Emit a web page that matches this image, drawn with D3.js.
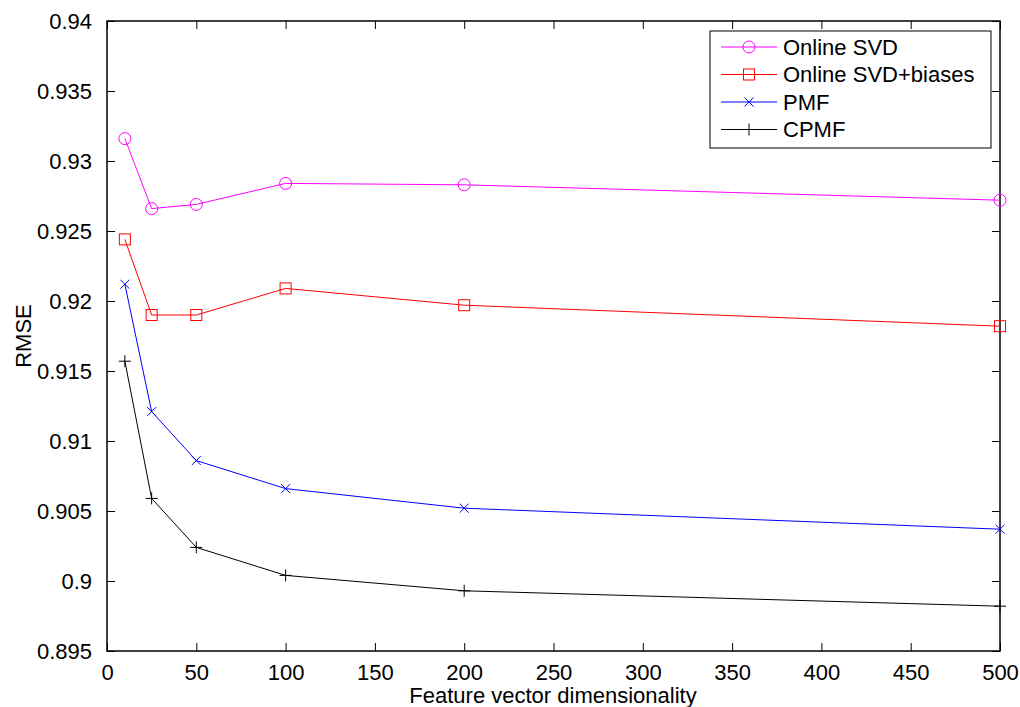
<!DOCTYPE html>
<html>
<head>
<meta charset="utf-8">
<script src="https://cdn.jsdelivr.net/npm/d3@7"></script>
<style>
  html, body { margin: 0; padding: 0; background: #fff; }
  svg { display: block; font-family: "Liberation Sans", Arial, Helvetica, sans-serif; }
</style>
</head>
<body>
<svg id="chart" width="1020" height="707"></svg>
<script>
// Feature vector dimensionality (x) and RMSE for each method
const dims = [10, 25, 50, 100, 200, 500];
const onlineSVD = [0.9316, 0.9266, 0.9269, 0.9284, 0.9283, 0.9272];
const onlineSVDBiases = [0.9244, 0.9190, 0.9190, 0.9209, 0.9197, 0.9182];
const pmf = [0.9212, 0.9121, 0.9086, 0.9066, 0.9052, 0.9037];
const cpmf = [0.9157, 0.9059, 0.9024, 0.9004, 0.8993, 0.8982];

const xTicks = [0, 50, 100, 150, 200, 250, 300, 350, 400, 450, 500];
const yTicks = [0.895, 0.9, 0.905, 0.91, 0.915, 0.92, 0.925, 0.93, 0.935, 0.94];

const seriesNames = ["Online SVD", "Online SVD+biases", "PMF", "CPMF"];
const seriesValues = [onlineSVD, onlineSVDBiases, pmf, cpmf];
const seriesColors = ["#ff00ff", "#ff0000", "#0000ff", "#000000"];
const seriesMarkers = ["circle", "square", "cross", "plus"];

const svg = d3.select("#chart");
const m = { left: 107, right: 1000, top: 21, bottom: 651 };
const fontSize = "22px";

const x = d3.scaleLinear().domain([0, 500]).range([m.left, m.right]);
const y = d3.scaleLinear().domain([0.895, 0.94]).range([m.bottom, m.top]);

const tickLen = 8;

// Axes with inward ticks on all four sides
const gBottom = svg.append("g").attr("transform", `translate(0,${m.bottom})`)
  .call(d3.axisBottom(x).tickValues(xTicks).tickSize(-tickLen).tickPadding(tickLen + 5).tickFormat(d => d));
const gTop = svg.append("g").attr("transform", `translate(0,${m.top})`)
  .call(d3.axisTop(x).tickValues(xTicks).tickSize(-tickLen).tickFormat(""));
const gLeft = svg.append("g").attr("transform", `translate(${m.left},0)`)
  .call(d3.axisLeft(y).tickValues(yTicks).tickSize(-tickLen).tickPadding(tickLen + 7).tickFormat(d => String(+d.toFixed(3))));
const gRight = svg.append("g").attr("transform", `translate(${m.right},0)`)
  .call(d3.axisRight(y).tickValues(yTicks).tickSize(-tickLen).tickFormat(""));

[gBottom, gTop, gLeft, gRight].forEach(g => {
  g.select(".domain").remove();
  g.selectAll(".tick line").attr("stroke", "#000").attr("stroke-width", 1);
  g.selectAll(".tick text").attr("fill", "#000").style("font-size", fontSize);
});
gBottom.selectAll(".tick text").attr("dy", "0.71em");

// Plot box
svg.append("rect")
  .attr("x", m.left).attr("y", m.top)
  .attr("width", m.right - m.left).attr("height", m.bottom - m.top)
  .attr("fill", "none").attr("stroke", "#000").attr("stroke-width", 1.5);

// Axis titles
svg.append("text")
  .attr("x", 553).attr("y", 703)
  .attr("text-anchor", "middle").style("font-size", fontSize).attr("fill", "#000")
  .text("Feature vector dimensionality");
svg.append("text")
  .attr("transform", `translate(31,${(m.top + m.bottom) / 2}) rotate(-90)`)
  .attr("text-anchor", "middle").style("font-size", fontSize).attr("fill", "#000")
  .text("RMSE");

function drawMarker(g, type, cx, cy, color) {
  if (type === "circle") {
    g.append("circle").attr("cx", cx).attr("cy", cy).attr("r", 6)
      .attr("fill", "none").attr("stroke", color).attr("stroke-width", 1);
  } else if (type === "square") {
    g.append("rect").attr("x", cx - 5.5).attr("y", cy - 5.5).attr("width", 11).attr("height", 11)
      .attr("fill", "none").attr("stroke", color).attr("stroke-width", 1);
  } else if (type === "cross") {
    const s = 4.5;
    g.append("path").attr("d", `M${cx - s},${cy - s}L${cx + s},${cy + s}M${cx - s},${cy + s}L${cx + s},${cy - s}`)
      .attr("stroke", color).attr("stroke-width", 1).attr("fill", "none");
  } else {
    const s = 6;
    g.append("path").attr("d", `M${cx - s},${cy}L${cx + s},${cy}M${cx},${cy - s}L${cx},${cy + s}`)
      .attr("stroke", color).attr("stroke-width", 1).attr("fill", "none");
  }
}

// Series lines and markers
const line = d3.line().x((d, i) => x(dims[i])).y(d => y(d));
seriesValues.forEach((vals, k) => {
  const g = svg.append("g");
  g.append("path").datum(vals).attr("d", line)
    .attr("fill", "none").attr("stroke", seriesColors[k]).attr("stroke-width", 1);
  vals.forEach((v, i) => drawMarker(g, seriesMarkers[k], x(dims[i]), y(v), seriesColors[k]));
});

// Legend
const lg = svg.append("g");
lg.append("rect").attr("x", 710).attr("y", 31).attr("width", 281).attr("height", 117)
  .attr("fill", "#fff").attr("stroke", "#000").attr("stroke-width", 1);
seriesNames.forEach((name, k) => {
  const ly = 47 + k * 27.5;
  lg.append("line").attr("x1", 721).attr("x2", 777).attr("y1", ly).attr("y2", ly)
    .attr("stroke", seriesColors[k]).attr("stroke-width", 1);
  drawMarker(lg, seriesMarkers[k], 749, ly, seriesColors[k]);
  lg.append("text").attr("x", 783).attr("y", ly).attr("dy", "0.35em")
    .style("font-size", fontSize).attr("fill", "#000").text(name);
});
</script>
</body>
</html>
